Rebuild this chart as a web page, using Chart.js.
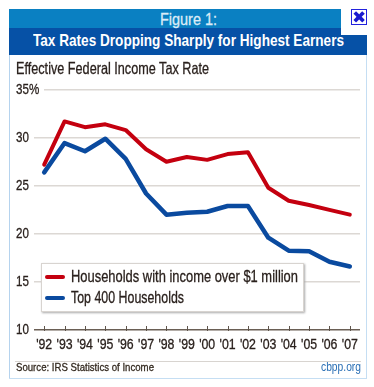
<!DOCTYPE html>
<html><head><meta charset="utf-8">
<script src="https://cdn.jsdelivr.net/npm/chart.js@4"></script>
<style>
html,body{margin:0;padding:0;background:#fff;width:374px;height:387px;overflow:hidden}
body{position:relative;font-family:"Liberation Sans",sans-serif;color:#2a211d}
#all{position:absolute;left:0;top:0;width:374px;height:387px;filter:blur(.35px)}
canvas{position:absolute;left:0;top:0}
.a{position:absolute;white-space:nowrap}
.f{transform-origin:0 0;display:inline-block}
.s{-webkit-text-stroke:.3px currentColor}
</style></head><body><div id="all">
<canvas id="c" width="374" height="387"></canvas>
<div class="a" style="left:9px;top:9px;width:358px;height:19px;background:#0a80c2"></div>
<div class="a" style="left:9px;top:28px;width:358px;height:27px;background:#0651a6"></div>
<div class="a" style="left:341px;top:0;width:33px;height:35px;background:#fff"></div>
<div class="a" style="left:9px;top:55px;width:1px;height:323px;background:#b5d3ee"></div>
<div class="a" style="left:366px;top:55px;width:1px;height:323px;background:#c5def3"></div>
<div class="a" style="left:9px;top:377.5px;width:358px;height:1px;background:#c5def3"></div>
<div class="a f s" data-w="57" style="left:160px;top:9px;line-height:21px;color:#dcecf7;font-size:16px">Figure 1:</div>
<div class="a f" data-w="311" style="left:33px;top:28px;line-height:26px;color:#fff;font-size:17px;font-weight:700">Tax Rates Dropping Sharply for Highest Earners</div>
<div class="a f s" data-w="193" style="left:16px;top:58px;line-height:20px;font-size:16.5px">Effective Federal Income Tax Rate</div>
<div class="a" style="left:351px;top:9px;width:16px;height:16px;box-sizing:border-box;border:1px solid #2222dd;text-align:center;color:#1a1ad0;font:700 17px/14px 'DejaVu Sans',sans-serif">&#10006;</div>
<div class="a" style="left:40.5px;top:262.5px;width:261.5px;height:47px;background:#fff;border:1px solid #d8d4d0;box-shadow:1px 1px 2px #aaa">
  <div class="a" style="left:3.5px;top:11.5px;width:20px;height:4px;border-radius:2px;background:#c4000f"></div>
  <div class="a f s" data-w="227" style="left:29.5px;top:3.5px;font-size:17px;line-height:20px">Households with income over $1 million</div>
  <div class="a" style="left:3.5px;top:32.5px;width:20px;height:4px;border-radius:2px;background:#0a4a9f"></div>
  <div class="a f s" data-w="113" style="left:29.5px;top:24.5px;font-size:17px;line-height:20px">Top 400 Households</div>
</div>
<div class="a" style="left:15px;top:361px;width:346px;height:1px;background:#d8d4d0"></div>
<div class="a f s" data-w="138" style="left:16px;top:361px;line-height:13px;font-size:11.5px;color:#33291f">Source: IRS Statistics of Income</div>
<div class="a f" data-w="40" style="left:321px;top:361px;line-height:13px;font-size:12.5px;color:#2a6fb5">cbpp.org</div>
</div>
<script>
const categories=["'92","'93","'94","'95","'96","'97","'98","'99","'00","'01","'02","'03","'04","'05","'06","'07"];
const millionHouseholds=[27.2,31.7,31.1,31.4,30.8,28.8,27.5,28.0,27.7,28.3,28.5,24.8,23.45,23.0,22.5,22.0];
const top400Households=[26.4,29.45,28.6,29.9,27.8,24.2,22.0,22.2,22.3,22.9,22.9,19.6,18.25,18.2,17.1,16.6];
const seriesNames=["Households with income over $1 million","Top 400 Households"];
const yTickValues=[10,15,20,25,30,35];
const font="'Liberation Sans',sans-serif";
document.querySelectorAll('.f').forEach(e=>{
  e.style.transform='scaleX('+(+e.dataset.w/e.getBoundingClientRect().width)+')';
});
function narrowLabels(scale,sx){
  scale.drawLabels=function(area){
    const c=this.ctx;
    this.getLabelItems(area).forEach(it=>{
      const o=it.options,[x,y]=o.translation;
      c.save();
      if(this.axis==='y'&&it.label.includes('%')){c.fillStyle='#fff';c.fillRect(x,y-8,28,16);}
      c.translate(x,y);c.scale(sx,1);
      c.font=it.font.string;c.fillStyle=o.color;c.strokeStyle=o.color;c.lineWidth=.3;c.textAlign=o.textAlign;c.textBaseline=o.textBaseline;
      c.fillText(it.label,0,it.textOffset);c.strokeText(it.label,0,it.textOffset);
      c.restore();
    });
  };
}
const customAxes={id:'customAxes',
  beforeDraw(ch){narrowLabels(ch.scales.x,.85);narrowLabels(ch.scales.y,.8);},
  afterDatasetsDraw(ch){
    const s=ch.scales.x,c=ch.ctx,b=s.top;
    c.save();c.strokeStyle='#5f554c';c.lineWidth=1;
    s.ticks.forEach((t,i)=>{const x=Math.round(s.getPixelForTick(i))+.5;c.beginPath();c.moveTo(x,b-4);c.lineTo(x,b+1);c.stroke();});
    c.restore();
  }};
new Chart(document.getElementById('c'),{
  type:'line',
  data:{labels:categories,datasets:[
    {label:seriesNames[0],data:millionHouseholds,borderColor:'#c4000f',borderWidth:4,pointRadius:0,tension:0,borderJoinStyle:'round',borderCapStyle:'round'},
    {label:seriesNames[1],data:top400Households,borderColor:'#0a4a9f',borderWidth:4.5,pointRadius:0,tension:0,borderJoinStyle:'round',borderCapStyle:'round'}
  ]},
  plugins:[customAxes],
  options:{
    responsive:false,animation:false,
    layout:{padding:{left:16,right:14,top:89.7,bottom:36}},
    plugins:{legend:{display:false},tooltip:{enabled:false},title:{display:false}},
    scales:{
      x:{type:'category',offset:true,
        afterFit(a){a.height=21;},
        grid:{display:false,drawTicks:false},border:{display:false},
        ticks:{color:'#2a211d',font:{family:font,size:14.5},padding:6,maxRotation:0,autoSkip:false}},
      y:{type:'linear',min:10,max:35,
        afterBuildTicks(a){a.ticks=yTickValues.map(v=>({value:v}));},
        afterFit(a){a.width=18;},
        grid:{drawTicks:false,color:c=>c.tick.value===10?'#6a5f55':'#dcd8d4',lineWidth:1.6},
        border:{display:false},
        ticks:{crossAlign:'far',padding:0,color:'#2a211d',font:{family:font,size:14.5},
          callback:v=>v===35?v+'%':''+v}}
    }
  }
});
</script>
</body></html>
